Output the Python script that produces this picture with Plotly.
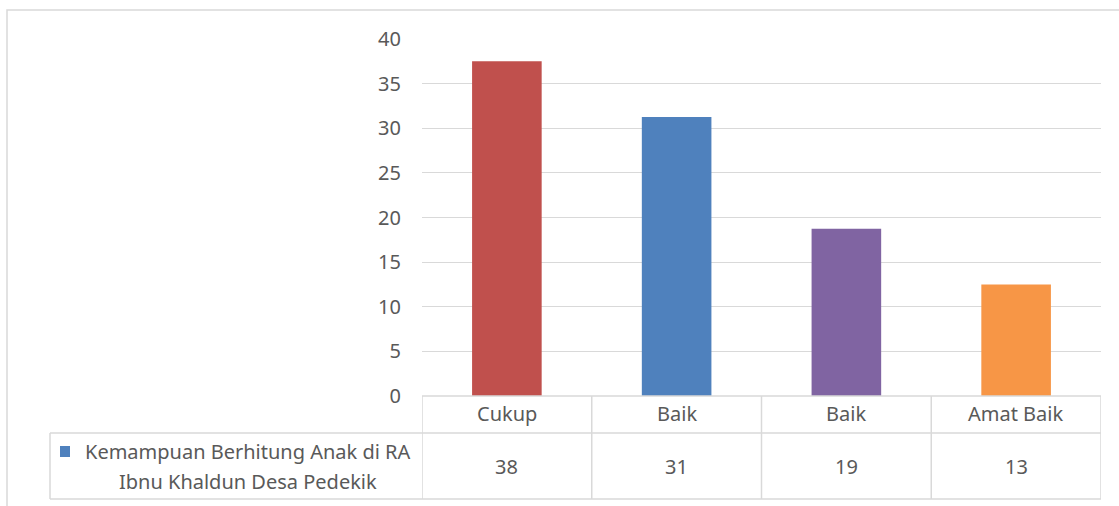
import math

import plotly.graph_objects as go

# Data
categories = ["Cukup", "Baik", "Baik", "Amat Baik"]
values = [37.5, 31.25, 18.75, 12.5]
bar_colors = ["#C0504D", "#4F81BD", "#8064A2", "#F79646"]
series_name = "Kemampuan Berhitung Anak di RA<br>Ibnu Khaldun Desa Pedekik"
y_ticks = [0, 5, 10, 15, 20, 25, 30, 35, 40]

W, H = 1119, 506
FONT = "Noto Sans"
TEXT = "#595959"
LINE = "#D9D9D9"
FS = 20


def px_x(x):
    return x / W


def px_y(y):
    return (H - y) / H


# Excel style rounding (half up) for the data table
table_labels = [str(math.floor(v + 0.5)) for v in values]
xs = list(range(len(categories)))

fig = go.Figure(
    go.Bar(
        x=xs,
        y=values,
        width=0.41,
        marker=dict(color=bar_colors, line=dict(width=0)),
        hoverinfo="skip",
    )
)

fig.update_layout(
    width=W,
    height=H,
    margin=dict(l=0, r=0, t=0, b=0, autoexpand=False),
    paper_bgcolor="white",
    plot_bgcolor="white",
    showlegend=False,
    font=dict(family=FONT, color=TEXT, size=FS),
    xaxis=dict(
        domain=[px_x(422), px_x(1101)],
        range=[-0.5, len(categories) - 0.5],
        showticklabels=False,
        showgrid=False,
        zeroline=False,
        automargin=False,
        fixedrange=True,
    ),
    yaxis=dict(
        domain=[px_y(396), px_y(39)],
        range=[0, 40],
        tickvals=y_ticks,
        showgrid=True,
        gridcolor=LINE,
        gridwidth=1.3,
        zeroline=False,
        automargin=False,
        ticklabelstandoff=20,
        tickfont=dict(size=FS, color=TEXT),
        fixedrange=True,
    ),
)

shapes = []
line = dict(color=LINE, width=1.5)

# Outer chart frame
shapes.append(dict(type="rect", xref="paper", yref="paper",
                   x0=px_x(7), x1=1.05, y0=-0.05, y1=px_y(10), line=line))

# Data table grid
for yy in (396, 433, 499):
    x_start = 422 if yy == 396 else 50
    shapes.append(dict(type="line", xref="paper", yref="paper",
                       x0=px_x(x_start), x1=px_x(1101), y0=px_y(yy), y1=px_y(yy), line=line))
for i in range(len(categories) + 1):
    shapes.append(dict(type="line", xref="x", yref="paper",
                       x0=i - 0.5, x1=i - 0.5, y0=px_y(396), y1=px_y(499), line=line))
shapes.append(dict(type="line", xref="paper", yref="paper",
                   x0=px_x(50), x1=px_x(50), y0=px_y(433), y1=px_y(499), line=line))

# Legend key
shapes.append(dict(type="rect", xref="paper", yref="paper",
                   x0=px_x(60), x1=px_x(70), y0=px_y(457), y1=px_y(446),
                   fillcolor=bar_colors[1], line=dict(width=0)))
fig.update_layout(shapes=shapes)

annotations = []
for i, (cat, lab) in enumerate(zip(categories, table_labels)):
    annotations.append(dict(x=i, y=px_y(414), xref="x", yref="paper", text=cat,
                            yanchor="middle", showarrow=False))
    annotations.append(dict(x=i, y=px_y(466), xref="x", yref="paper", text=lab,
                            yanchor="middle", showarrow=False))
for k, part in enumerate(series_name.split("<br>")):
    annotations.append(dict(x=px_x(248), y=px_y(451 + 30 * k), xref="paper", yref="paper",
                            text=part, showarrow=False, xanchor="center", yanchor="middle"))
fig.update_layout(annotations=annotations)

fig.write_html(
    "out.html",
    config={"displayModeBar": False},
    post_script="document.body.style.margin='0';",
)
